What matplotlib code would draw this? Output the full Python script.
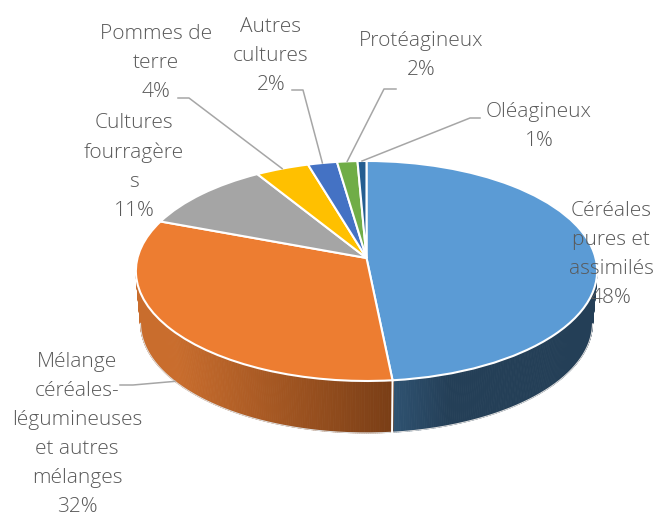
import numpy as np
import matplotlib
matplotlib.use("Agg")
import matplotlib.pyplot as plt
from matplotlib.collections import PolyCollection
from matplotlib.colors import to_rgb
from matplotlib.transforms import Transform

names = ["Céréales\npures et\nassimilés", "Mélange\ncéréales-\nlégumineuses\net autres\nmélanges",
         "Cultures\nfourragère\ns", "Pommes de\nterre", "Autres\ncultures", "Protéagineux", "Oléagineux"]
values = [48.4, 32.3, 10.51, 4.2, 2.29, 1.6, 0.7]
colors = ["#5B9BD5", "#ED7D31", "#A5A5A5", "#FFC000", "#4472C4", "#70AD47", "#255E91"]

CX, CY, APEX, A, B, K, DEPTH, BS = 366.5, 271.0, 13.0, 229.0, 110.0, 0.118, 52.0, 0.98
TXT = "#595959"
LEAD = "#A6A6A6"


def project(x, y, bottom=False):
    x, y = np.asarray(x, float), np.asarray(y, float)
    d = 1 + K * y
    X = A * x / d
    Y = (APEX + B * y) / d
    if bottom:
        return CX + BS * X, CY - Y + DEPTH
    return CX + X, CY - Y


class Perspective(Transform):
    input_dims = output_dims = 2
    is_affine = False
    has_inverse = False

    def transform_non_affine(self, values):
        v = np.asarray(values, float)
        return np.column_stack(project(v[:, 0], v[:, 1]))


def lerp(c1, c2, t):
    a, b = np.array(to_rgb(c1)), np.array(to_rgb(c2))
    return tuple(a + (b - a) * float(np.clip(t, 0, 1)))


fig = plt.figure(figsize=(6.59, 5.14), dpi=100)
ax = fig.add_axes([0, 0, 1, 1])
wedges, _ = ax.pie(values, colors=colors, startangle=90, counterclock=False,
                   wedgeprops=dict(edgecolor="white", linewidth=1.5, zorder=3))
ax.set_aspect("auto")
ax.set_xlim(0, 659)
ax.set_ylim(514, 0)
ax.axis("off")
persp = Perspective()
for w in wedges:
    w.set_transform(persp + ax.transData)
    w.set_zorder(3)

# side wall
side = {0: [("#2F5372", "#243F57"), (392, 450)], 1: [("#C96D2D", "#7A3E16"), (175, 392)]}
for idx, ((c1, c2), (x0, x1)) in side.items():
    w = wedges[idx]
    th = np.radians(np.arange(w.theta1, w.theta2 + 0.5, 0.5))
    th = th[np.sin(th) < -K]
    xt, yt = project(np.cos(th), np.sin(th))
    xb, yb = project(np.cos(th), np.sin(th), bottom=True)
    polys, cols = [], []
    for i in range(len(th) - 1):
        polys.append([(xt[i], yt[i]), (xt[i + 1], yt[i + 1]), (xb[i + 1], yb[i + 1]), (xb[i], yb[i])])
        cols.append(lerp(c1, c2, ((xt[i] + xt[i + 1]) / 2 - x0) / (x1 - x0)))
    ax.add_collection(PolyCollection(polys, facecolors=cols, edgecolors=cols, linewidths=0.6, zorder=2))
    ax.plot(xb, yb, color="#DDDDDD", lw=0.8, zorder=2.5)

# white separator on the wall between the two front slices
sep = np.radians(wedges[0].theta1)
xs0, ys0 = project(np.cos(sep), np.sin(sep))
xs1, ys1 = project(np.cos(sep), np.sin(sep), bottom=True)
ax.plot([xs0, xs1], [ys0, ys1], color="white", lw=1.4, zorder=2.6)


def mid_point(i, bottom=False):
    a = np.radians((wedges[i].theta1 + wedges[i].theta2) / 2)
    return project(np.cos(a), np.sin(a), bottom=bottom)


# leader lines: label side elbow, then the slice
leaders = {1: [(120, 385), (133, 385)], 3: [(178, 98), (189, 98)], 4: [(292, 90), (303, 90)],
           5: [(396, 89), (384, 89)], 6: [(480, 118), (470, 118)]}
for i, pts in leaders.items():
    ex, ey = mid_point(i, bottom=(i == 1))
    ax.plot([pts[0][0], pts[1][0], float(ex)], [pts[0][1], pts[1][1], float(ey)],
            color=LEAD, lw=1.1, zorder=4)

label_pos = [(611, 201), (77, 352), (134, 113), (156, 24), (271, 17), (421, 31), (539, 102)]
for name, val, (x, y) in zip(names, values, label_pos):
    ax.text(x, y, f"{name}\n{val:.0f}%", ha="center", va="top", fontsize=15, color=TXT,
            family="Open Sans", fontweight=300, linespacing=1.6, zorder=5)

fig.savefig("out.png", dpi=100)
